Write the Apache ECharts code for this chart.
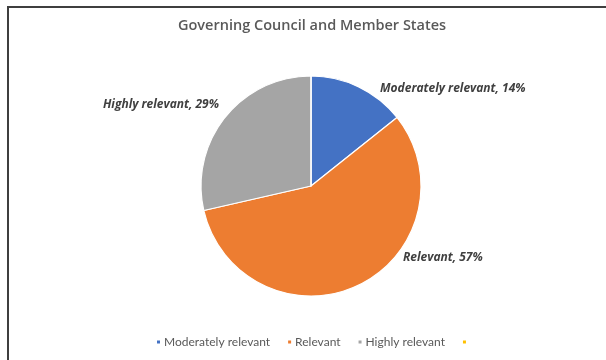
<!DOCTYPE html>
<html>
<head>
<meta charset="utf-8">
<script src="https://cdn.jsdelivr.net/npm/echarts@6/dist/echarts.min.js"></script>
<style>
  html, body { margin: 0; padding: 0; background: #fff; }
  #frame {
    position: absolute; left: 7px; top: 6px; width: 640px; height: 400px;
    border-left: 2px solid #3f3f3f; border-top: 2px solid #3f3f3f;
  }
  #chart { position: absolute; left: 0; top: 0; width: 606px; height: 360px; }
</style>
</head>
<body>
<div id="frame"></div>
<div id="chart"></div>
<script>
// Survey responses: relevance as rated by the Governing Council and Member States
const titleText = 'Governing Council and Member States';
const categories = ['Moderately relevant', 'Relevant', 'Highly relevant', ' '];
const counts = [1, 4, 2, 0];
const colors = ['#4472C4', '#ED7D31', '#A5A5A5', '#FFC000'];

// Label anchors (pixels) and alignment for each slice's data label
const labelAnchors = [
  { x: 380, y: 89, align: 'left' },
  { x: 403, y: 258, align: 'left' },
  { x: 219, y: 105, align: 'right' }
];

const chart = echarts.init(document.getElementById('chart'), null, { renderer: 'canvas' });

const total = counts.reduce((a, b) => a + b, 0);

chart.setOption({
  animation: false,
  color: colors,
  title: {
    text: titleText,
    left: 173,
    top: 13,
    textStyle: { fontFamily: 'Open Sans', fontSize: 14.5, fontWeight: 600, color: '#595959' }
  },
  legend: {
    bottom: 7,
    left: 150,
    itemWidth: 5,
    itemHeight: 5,
    itemGap: 16,
    icon: 'rect',
    data: categories,
    textStyle: { fontFamily: 'Lato', fontSize: 12, color: '#595959', padding: [0, 0, 0, -2] }
  },
  series: [{
    type: 'pie',
    center: [311, 186],
    radius: 110,
    startAngle: 90,
    clockwise: true,
    avoidLabelOverlap: false,
    itemStyle: { borderColor: '#fff', borderWidth: 1.2 },
    label: {
      show: true,
      position: 'outside',
      fontFamily: 'Open Sans',
      fontSize: 12,
      fontStyle: 'italic',
      fontWeight: 'bold',
      color: '#404040',
      formatter: p => p.name + ', ' + Math.round(p.value / total * 100) + '%'
    },
    labelLine: { show: false },
    labelLayout: p => {
      const a = labelAnchors[p.dataIndex];
      if (!a) return {};
      return { x: a.x, y: a.y, align: a.align, verticalAlign: 'middle' };
    },
    data: categories.map((name, i) => ({
      name,
      value: counts[i],
      label: counts[i] === 0 ? { show: false } : undefined
    }))
  }]
});
</script>
</body>
</html>
